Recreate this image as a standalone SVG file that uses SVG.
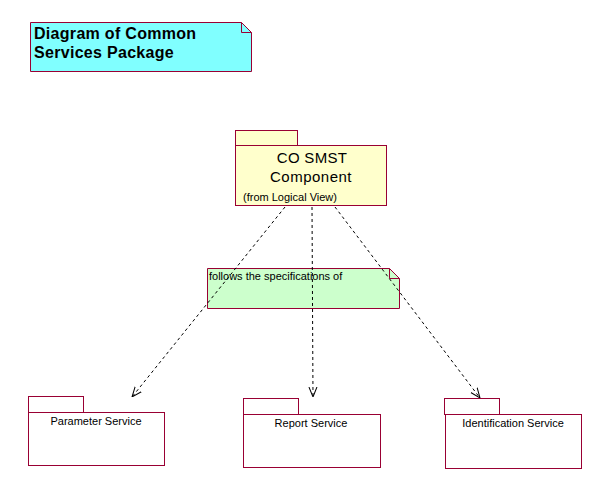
<svg xmlns="http://www.w3.org/2000/svg" width="610" height="493" viewBox="0 0 610 493">
<style>
.b{stroke:#990033;stroke-width:1;}
.t{font-family:"Liberation Sans",Arial,sans-serif;fill:#000;}
.dep{stroke:#000;stroke-width:1;stroke-dasharray:3,3;fill:none;}
</style>
<defs>
<marker id="arr" viewBox="0 0 10 10" refX="10" refY="5" markerWidth="10" markerHeight="10" markerUnits="userSpaceOnUse" orient="auto">
<path d="M0,1 L10,5 L0,9" fill="none" stroke="#000" stroke-width="1"/>
</marker>
</defs>
<rect width="610" height="493" fill="#fff"/>
<g id="title">
<path class="b" d="M30.5,22.5 H241.5 L251.5,32.5 V71.5 H30.5 Z" fill="#80FFFF"/>
<path class="b" d="M241.5,22.5 V32.5 H251.5" fill="none"/>
<text class="t" x="34" y="39" font-size="16" font-weight="bold" letter-spacing="0.3">Diagram of Common</text>
<text class="t" x="34" y="58" font-size="16" font-weight="bold" letter-spacing="0.3">Services Package</text>
</g>
<g id="co-smst">
<rect class="b" x="235.5" y="130.5" width="62" height="15" fill="#FFFFCC"/>
<rect class="b" x="235.5" y="145.5" width="151" height="60" fill="#FFFFCC"/>
<text class="t" x="312" y="163" font-size="15" text-anchor="middle" letter-spacing="0.3">CO SMST</text>
<text class="t" x="311" y="182" font-size="15" text-anchor="middle" letter-spacing="0.5">Component</text>
<text class="t" x="243" y="201" font-size="11">(from Logical View)</text>
</g>
<g id="note">
<path class="b" d="M207.5,268.5 H389.5 L399.5,278.5 V308.5 H207.5 Z" fill="#CCFFCC"/>
<path class="b" d="M389.5,268.5 V278.5 H399.5" fill="none"/>
<text class="t" x="209" y="280" font-size="11">follows the specifications of</text>
</g>
<g id="parameter-service">
<rect class="b" x="28.5" y="396.5" width="55" height="16" fill="#fff"/>
<rect class="b" x="28.5" y="412.5" width="136" height="53" fill="#fff"/>
<text class="t" x="96" y="425" font-size="11" text-anchor="middle">Parameter Service</text>
</g>
<g id="report-service">
<rect class="b" x="243.5" y="398.5" width="55" height="16" fill="#fff"/>
<rect class="b" x="243.5" y="414.5" width="137" height="53" fill="#fff"/>
<text class="t" x="311" y="427" font-size="11" text-anchor="middle">Report Service</text>
</g>
<g id="identification-service">
<rect class="b" x="444.5" y="398.5" width="55" height="16" fill="#fff"/>
<rect class="b" x="445.5" y="414.5" width="136" height="54" fill="#fff"/>
<text class="t" x="513" y="427" font-size="11" text-anchor="middle">Identification Service</text>
</g>
<g id="connectors">
<line class="dep" x1="285" y1="207" x2="132" y2="397" marker-end="url(#arr)"/>
<line class="dep" x1="312" y1="207" x2="313" y2="397" marker-end="url(#arr)"/>
<line class="dep" x1="335" y1="207" x2="480" y2="398" marker-end="url(#arr)"/>
</g>
</svg>
